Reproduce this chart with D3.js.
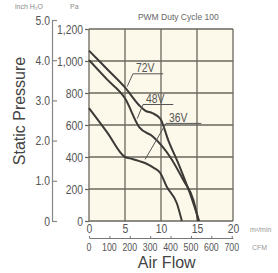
<!DOCTYPE html>
<html>
<head>
<meta charset="utf-8">
<script src="https://cdn.jsdelivr.net/npm/d3@7"></script>
<style>
    body { margin: 0; background: #fff; }
    svg { display: block; }
    .tick text { font-family: 'Liberation Sans', sans-serif; fill: #555; }
</style>
</head>
<body>
<svg id="chart" width="278" height="273"></svg>
<script>
// data

let voltages = ['72V', '48V', '36V'];

let flow72 = [0, 2.5, 5, 7, 7.8, 8.8, 9.9, 11, 12.6, 14, 15.3];
let pa72 = [1065, 950, 835, 722, 690, 674, 640, 506, 339, 175, 0];

let flow48 = [0, 2.5, 5, 7, 8.9, 11.25, 13.1, 14.5, 15.2];
let pa48 = [1006, 885, 767, 585, 527, 402, 256, 131, 0];

let flow36 = [0, 2.5, 5, 6, 7, 8, 9, 9.9, 10.8, 12.2, 12.9];
let pa36 = [706, 556, 400, 388, 374, 358, 332, 300, 214, 111, 0];

// label: underline start/end, pointer tip (m3/min, Pa)
let labelFrom = [[6.1, 920], [7.5, 728], [10.7, 610]];
let labelTo = [[10.3, 920], [11.7, 728], [15.6, 610]];
let labelTip = [[5.3, 840], [6.7, 640], [7.8, 385]];

let paTicks = [0, 200, 400, 600, 800, 1000, 1200];
let inchTicks = [0, 1, 2, 3, 4, 5];
let flowTicks = [0, 5, 10, 15, 20];
let cfmTicks = [0, 100, 200, 300, 400, 500, 600, 700];

let series = [
    flow72.map((f, i) => [f, pa72[i]]),
    flow48.map((f, i) => [f, pa48[i]]),
    flow36.map((f, i) => [f, pa36[i]]),
];

// layout

let margin = { left: 89, top: 29, right: 45, bottom: 52 };
let width = 278 - margin.left - margin.right;
let height = 273 - margin.top - margin.bottom;

let x = d3.scaleLinear().domain([0, 20]).range([0, width]);
let y = d3.scaleLinear().domain([0, 1200]).range([height, 0]);
let xCfm = d3.scaleLinear().domain([0, 20 * 35.31]).range([0, width]);
let yInch = d3.scaleLinear().domain([0, 5]).range([height, -9]);

let narrow = 0.8;

// squeeze text horizontally, keeping its anchor point
function squeeze(sel) {
    sel.each(function() {
        let t = d3.select(this);
        let x0 = +t.attr('x') || 0;
        let y0 = +t.attr('y') || 0;
        t.attr('x', 0).attr('y', 0)
            .attr('transform', `translate(${x0},${y0}) scale(${narrow},1)`);
    });
}

let svg = d3.select('#chart');
let g = svg.append('g')
    .attr('transform', `translate(${margin.left},${margin.top})`);

// plot background + grid

g.append('rect')
    .attr('width', width)
    .attr('height', height)
    .attr('fill', '#fcf9ea');

g.selectAll('.vgrid')
    .data(flowTicks)
    .enter()
    .append('line')
    .attr('x1', (d) => x(d))
    .attr('x2', (d) => x(d))
    .attr('y1', 0)
    .attr('y2', height)
    .attr('stroke', '#6a665c')
    .attr('stroke-width', 1.3);

g.selectAll('.hgrid')
    .data(paTicks)
    .enter()
    .append('line')
    .attr('x1', 0)
    .attr('x2', width)
    .attr('y1', (d) => y(d))
    .attr('y2', (d) => y(d))
    .attr('stroke', '#6a665c')
    .attr('stroke-width', 1.3);

// axes

let paAxis = g.append('g')
    .call(d3.axisLeft(y).tickValues(paTicks).tickSize(4).tickPadding(2)
        .tickFormat(d3.format(',')));
paAxis.select('.domain').remove();
paAxis.selectAll('line').attr('stroke', '#6a665c').attr('stroke-width', 1.3);
paAxis.selectAll('text').style('font-size', '13px').call(squeeze);

let inchAxis = g.append('g')
    .attr('transform', 'translate(-37,0)')
    .call(d3.axisLeft(yInch).tickValues(inchTicks).tickSizeInner(-5).tickSizeOuter(0).tickPadding(2)
        .tickFormat((d) => d == 0 ? '0' : d3.format('.1f')(d)));
inchAxis.select('.domain').attr('stroke', '#888').attr('stroke-width', 1.2);
inchAxis.selectAll('line').attr('stroke', '#888').attr('stroke-width', 1.2);
inchAxis.selectAll('text').style('font-size', '13px').call(squeeze);

let flowAxis = g.append('g')
    .attr('transform', `translate(0,${height})`)
    .call(d3.axisBottom(x).tickValues(flowTicks).tickSize(0).tickPadding(3));
flowAxis.select('.domain').remove();
flowAxis.selectAll('text').style('font-size', '13px').call(squeeze);

let cfmAxis = g.append('g')
    .attr('transform', `translate(0,${height + 17})`)
    .call(d3.axisTop(xCfm).tickValues(cfmTicks).tickSizeInner(2).tickSizeOuter(0).tickFormat(''));
cfmAxis.select('.domain').attr('stroke', '#777');
cfmAxis.selectAll('line').attr('stroke', '#777');

g.append('g')
    .selectAll('text')
    .data(cfmTicks)
    .enter()
    .append('text')
    .attr('x', (d) => xCfm(d))
    .attr('y', height + 30)
    .attr('text-anchor', 'middle')
    .style('font-family', "'Liberation Sans', sans-serif")
    .style('font-size', '11px')
    .attr('fill', '#555')
    .text((d) => d)
    .call(squeeze);

// curves

let line = d3.line()
    .x((d) => x(d[0]))
    .y((d) => y(d[1]))
    .curve(d3.curveMonotoneX);

g.selectAll('.curve')
    .data(series)
    .enter()
    .append('path')
    .attr('d', line)
    .attr('fill', 'none')
    .attr('stroke', '#3c3a36')
    .attr('stroke-width', 2);

// voltage labels

g.selectAll('.vlabel')
    .data(voltages)
    .enter()
    .append('g')
    .each(function(d, i) {
        let self = d3.select(this);
        let [fx, fy] = labelFrom[i];
        let [tx, ty] = labelTo[i];
        let [px, py] = labelTip[i];
        self.append('path')
            .attr('d', `M${x(px)},${y(py)}L${x(fx)},${y(fy)}L${x(tx)},${y(ty)}`)
            .attr('fill', 'none')
            .attr('stroke', '#555')
            .attr('stroke-width', 1);
        self.append('text')
            .attr('x', x(fx) + 3)
            .attr('y', y(fy) - 1.5)
            .style('font-family', "'Liberation Sans', sans-serif")
            .style('font-size', '13px')
            .attr('fill', '#555')
            .text(d)
            .call(squeeze);
    });

// titles

svg.append('text')
    .attr('x', 15)
    .attr('y', 9)
    .style('font-family', "'Liberation Sans', sans-serif")
    .style('font-size', '7px')
    .attr('fill', '#888')
    .text('inch H₂O');

svg.append('text')
    .attr('x', 70)
    .attr('y', 9)
    .style('font-family', "'Liberation Sans', sans-serif")
    .style('font-size', '7px')
    .attr('fill', '#888')
    .text('Pa');

svg.append('text')
    .attr('x', margin.left + x(12.4))
    .attr('y', 20)
    .attr('text-anchor', 'middle')
    .style('font-family', "'Liberation Sans', sans-serif")
    .style('font-size', '8.5px')
    .attr('fill', '#666')
    .text('PWM Duty Cycle 100');

svg.append('text')
    .attr('transform', 'translate(25,111) rotate(-90)')
    .attr('text-anchor', 'middle')
    .style('font-family', "'Liberation Sans', sans-serif")
    .style('font-size', '16px')
    .attr('fill', '#444')
    .text('Static Pressure');

svg.append('text')
    .attr('x', margin.left + x(10.8))
    .attr('y', 268)
    .attr('text-anchor', 'middle')
    .style('font-family', "'Liberation Sans', sans-serif")
    .style('font-size', '16px')
    .attr('fill', '#444')
    .text('Air Flow');

svg.append('text')
    .attr('x', 250)
    .attr('y', margin.top + height + 11)
    .style('font-family', "'Liberation Sans', sans-serif")
    .style('font-size', '7px')
    .attr('fill', '#999')
    .text('m³/min');

svg.append('text')
    .attr('x', 252)
    .attr('y', margin.top + height + 29)
    .style('font-family', "'Liberation Sans', sans-serif")
    .style('font-size', '7px')
    .attr('fill', '#999')
    .text('CFM');
</script>
</body>
</html>
